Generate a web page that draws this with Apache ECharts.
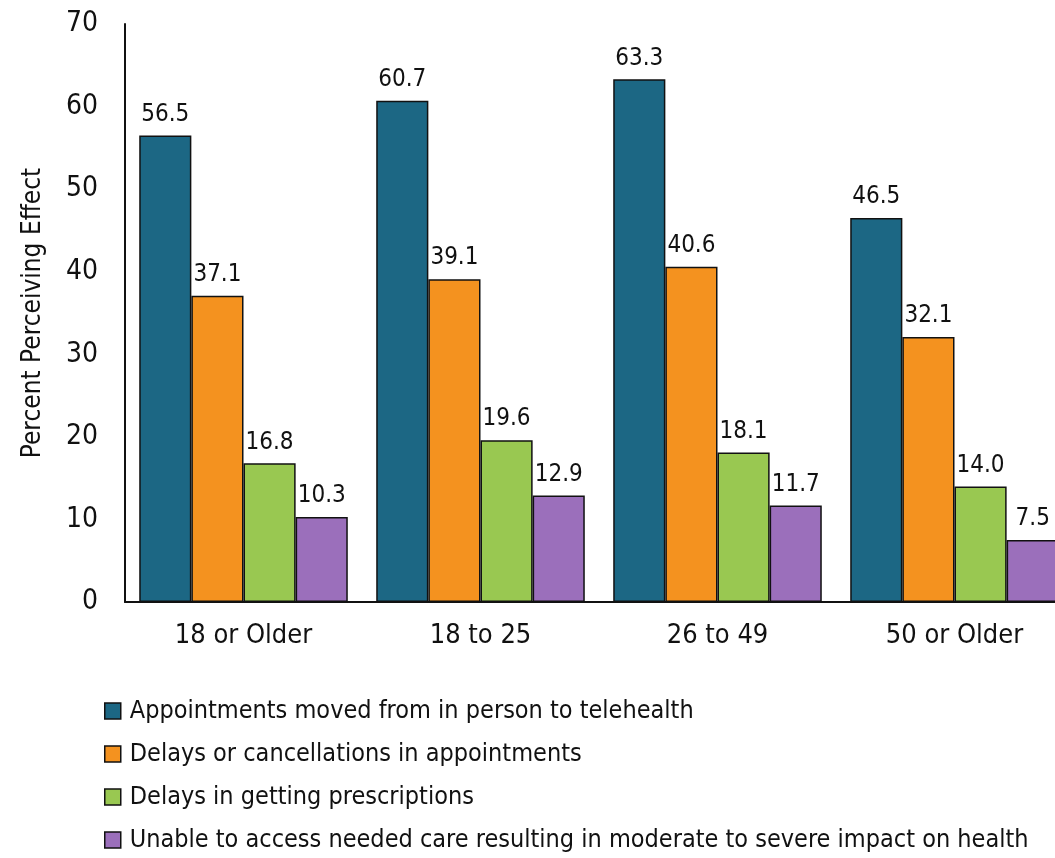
<!DOCTYPE html>
<html>
<head>
<meta charset="utf-8">
<script src="https://cdn.jsdelivr.net/npm/echarts@6/dist/echarts.min.js"></script>
<style>
  html, body { margin: 0; padding: 0; background: #fff; }
  #chart { width: 1055px; height: 858px; }
</style>
</head>
<body>
<div id="chart"></div>
<script>
// age groups along the x axis
var ageGroups = ['18 or Older', '18 to 25', '26 to 49', '50 or Older'];

// one array per effect, in the order of ageGroups
var telehealth = [56.5, 60.7, 63.3, 46.5];
var delays = [37.1, 39.1, 40.6, 32.1];
var prescriptions = [16.8, 19.6, 18.1, 14.0];
var unableCare = [10.3, 12.9, 11.7, 7.5];

var seriesNames = [
    'Appointments moved from in person to telehealth',
    'Delays or cancellations in appointments',
    'Delays in getting prescriptions',
    'Unable to access needed care resulting in moderate to severe impact on health'
];
var yTicks = [0, 10, 20, 30, 40, 50, 60, 70];

var colors = ['#1c6784', '#f4921f', '#99c851', '#9b6fbb'];
var FONT = '"Liberation Sans Narrow", "DejaVu Sans Condensed", "Arial Narrow", sans-serif';

function makeSeries(name, data, color) {
    return {
        name: name,
        type: 'bar',
        data: data,
        barGap: '0%',
        barCategoryGap: '12%',
        itemStyle: {
            color: color,
            borderColor: '#111',
            borderWidth: 1.5
        },
        label: {
            show: true,
            position: 'top',
            distance: 9,
            color: '#111',
            fontFamily: FONT,
            fontSize: 24,
            formatter: function (p) { return p.value.toFixed(1); }
        }
    };
}

var chart = echarts.init(document.getElementById('chart'));

var option = {
    animation: false,
    color: colors,
    textStyle: { fontFamily: FONT },
    grid: {
        left: 125,
        width: 948,
        top: 24,
        bottom: 256,
        containLabel: false,
        outerBoundsMode: 'none'
    },
    xAxis: {
        type: 'category',
        data: ageGroups,
        axisLine: { show: true, lineStyle: { color: '#111', width: 2 } },
        axisTick: { show: false },
        axisLabel: {
            color: '#111',
            fontFamily: FONT,
            fontSize: 27,
            margin: 20
        }
    },
    yAxis: {
        type: 'value',
        min: yTicks[0],
        max: yTicks[yTicks.length - 1],
        interval: 10,
        name: 'Percent Perceiving Effect',
        nameLocation: 'middle',
        nameGap: 79,
        nameTextStyle: {
            color: '#111',
            fontFamily: FONT,
            fontSize: 26
        },
        splitLine: { show: false },
        axisLine: { show: true, lineStyle: { color: '#111', width: 2 } },
        axisTick: { show: false },
        axisLabel: {
            color: '#111',
            fontFamily: FONT,
            fontSize: 28,
            margin: 27
        }
    },
    legend: {
        orient: 'vertical',
        left: 104,
        top: 697,
        padding: 0,
        itemWidth: 16,
        itemHeight: 16,
        itemGap: 15,
        icon: 'rect',
        textStyle: {
            color: '#111',
            fontFamily: FONT,
            fontSize: 25,
            lineHeight: 28,
            padding: [0, 0, 0, 4]
        },
        data: seriesNames.map(function (n, i) {
            return { name: n, itemStyle: { borderColor: '#111', borderWidth: 1.5, color: colors[i] } };
        })
    },
    series: [
        makeSeries(seriesNames[0], telehealth, colors[0]),
        makeSeries(seriesNames[1], delays, colors[1]),
        makeSeries(seriesNames[2], prescriptions, colors[2]),
        makeSeries(seriesNames[3], unableCare, colors[3])
    ]
};

chart.setOption(option);
</script>
</body>
</html>
